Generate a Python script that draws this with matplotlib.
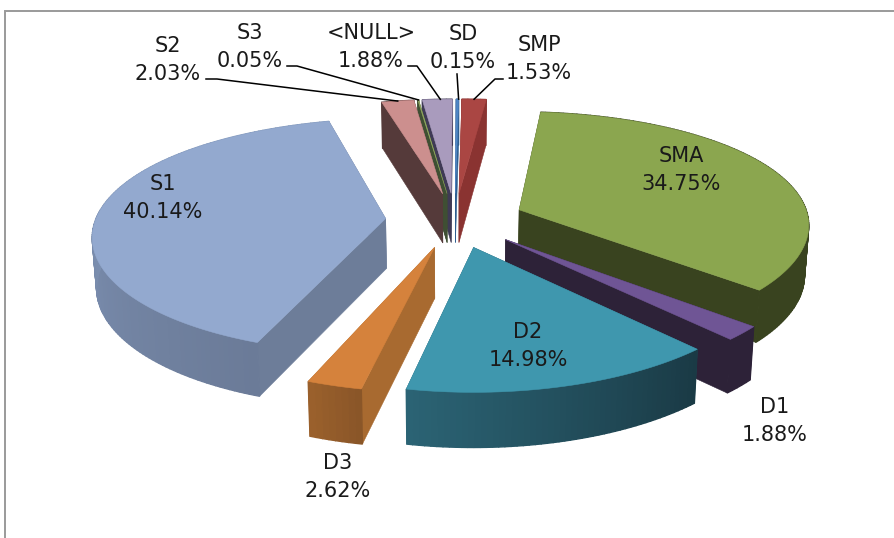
import numpy as np
import matplotlib
matplotlib.use("Agg")
import matplotlib.pyplot as plt
from matplotlib.colors import LinearSegmentedColormap
from matplotlib.patches import Polygon

# clockwise from 12 o'clock
labels = ["SMP", "SMA", "D1", "D2", "D3", "S1", "S2", "S3", "<NULL>", "SD"]
shares = [1.53, 34.75, 1.88, 14.98, 2.62, 40.14, 2.03, 0.05, 1.88, 0.15]

top_colors = ["#aa4643", "#8ba64f", "#6f5595", "#3f97ae", "#d5823c",
              "#93a9cf", "#cc8f8e", "#8fa55f", "#a99bbd", "#4f86c5"]
wall_colors = ["#8a3331", "#39431f", "#2d2238", "#2b6374", "#a86a30",
               "#6d7d99", "#553a3a", "#3f4f33", "#3f3a55", "#2f5f90"]
rim_colors = {
    "SMP": ["#8a3331", "#8a3331"],
    "SMA": ["#39431f", "#39431f"],
    "D1": ["#2d2238", "#2d2238"],
    "D2": ["#1a3a45", "#2b6374"],
    "D3": ["#8a5628", "#9a602c"],
    "S1": ["#6b7b98", "#7688a8", "#8096b8", "#8096b8"],
    "S2": ["#553a3a", "#553a3a"],
    "S3": ["#3f4f33", "#3f4f33"],
    "<NULL>": ["#3f3a55", "#3f3a55"],
    "SD": ["#2f5f90", "#2f5f90"],
}

# back slices first so the nearer ones paint over them
draw_order = ["SMP", "SD", "<NULL>", "S3", "S2", "SMA", "S1", "D1", "D3", "D2"]

label_xy = {
    "SMP": (539, 59), "SMA": (681, 170), "D1": (775, 421), "D2": (528, 346),
    "D3": (338, 477), "S1": (163, 198), "S2": (168, 60), "S3": (250, 47),
    "<NULL>": (371, 47), "SD": (463, 48),
}
# leader lines: first point(s) near the label, last one computed on the slice
leader_xy = {
    "SMP": [(503, 79), (495, 79)],
    "S2": [(206, 79), (217, 79)],
    "S3": [(287, 66), (297, 66)],
    "<NULL>": [(408, 66), (417, 66)],
    "SD": [(457, 74)],
}

CX, CY = 455.0, 220.0
RX, RY = 290.0, 115.0
PERSP = 0.145
SKEW = 7.0
EXPLODE = 0.24
DEPTH = 50.0


def project(x, y, low=False):
    s = 1.0 / (1.0 + PERSP * y)
    sx = RX * x * s + SKEW * y * (x + 0.45)
    sy = CY - RY * y * s
    if low:
        return CX + sx * 0.988, sy + DEPTH * np.sqrt(s)
    return CX + sx, sy


def slice_outline(a0, a1):
    mid = np.radians((a0 + a1) / 2)
    ox, oy = EXPLODE * np.sin(mid), EXPLODE * np.cos(mid)
    ang = np.radians(np.linspace(a0, a1, max(int(a1 - a0), 2)))
    return ox, oy, ox + np.sin(ang), oy + np.cos(ang)


fig = plt.figure(figsize=(8.94, 5.38), dpi=100)
ax = fig.add_axes([0, 0, 1, 1])
ax.set_xlim(0, 894)
ax.set_ylim(538, 0)
ax.axis("off")

ax.plot([5, 5, 894], [538, 11, 11], color="#9a9a9a", lw=1.4, solid_joinstyle="miter")

total = sum(shares)
edges = np.concatenate([[0], np.cumsum(shares)]) / total * 360
span = {n: (edges[i], edges[i + 1]) for i, n in enumerate(labels)}

for name in draw_order:
    i = labels.index(name)
    a0, a1 = span[name]
    ox, oy, xs, ys = slice_outline(a0, a1)

    # radial walls
    for ex, ey in [(xs[0], ys[0]), (xs[-1], ys[-1])]:
        quad = [project(ox, oy), project(ex, ey), project(ex, ey, True), project(ox, oy, True)]
        ax.add_patch(Polygon(quad, fc=wall_colors[i], ec=wall_colors[i], lw=0.4))

    # outer rim, shaded along the arc
    cmap = LinearSegmentedColormap.from_list(name, rim_colors[name])
    for k in range(len(xs) - 1):
        quad = [project(xs[k], ys[k]), project(xs[k + 1], ys[k + 1]),
                project(xs[k + 1], ys[k + 1], True), project(xs[k], ys[k], True)]
        c = cmap(k / max(len(xs) - 2, 1))
        ax.add_patch(Polygon(quad, fc=c, ec=c, lw=1.0))

    top = [project(ox, oy)] + [project(x, y) for x, y in zip(xs, ys)]
    ax.add_patch(Polygon(top, fc=top_colors[i], ec=top_colors[i], lw=0.4))

for name, pts in leader_xy.items():
    a0, a1 = span[name]
    ox, oy, xs, ys = slice_outline(a0, a1)
    m = len(xs) // 2
    end = project(xs[m], ys[m])
    line = pts + [end]
    ax.plot([p[0] for p in line], [p[1] for p in line], color="black", lw=1.1)

for n, v in zip(labels, shares):
    x, y = label_xy[n]
    ax.text(x, y, f"{n}\n{v:.2f}%", ha="center", va="center", fontsize=15,
            linespacing=1.45, color="#1a1a1a", family="DejaVu Sans")

fig.savefig("out.png", dpi=100)
